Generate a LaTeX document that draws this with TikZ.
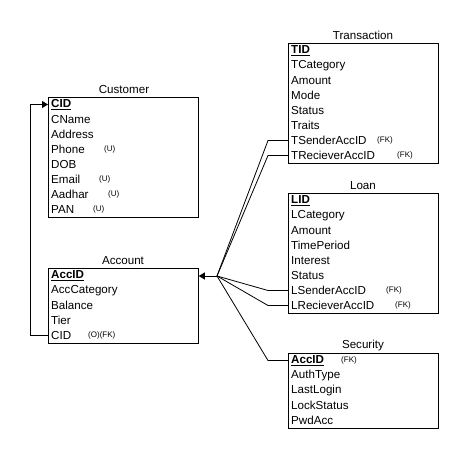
\documentclass[tikz,border=0pt]{standalone}
\usepackage{fontspec}
\setmainfont{Liberation Sans}
\usetikzlibrary{arrows.meta}
\tikzset{
  tbl/.style={draw, line width=0.8pt, minimum width=150pt, anchor=north west, inner sep=0pt},
  attr/.style={anchor=west, inner sep=0pt, font=\fontsize{11.6}{13}\selectfont},
  pk/.style={attr, font=\fontsize{11.6}{13}\selectfont\bfseries},
  note/.style={anchor=west, inner sep=0pt, font=\fontsize{8}{9}\selectfont},
  ttl/.style={inner sep=0pt, font=\fontsize{11.6}{13}\selectfont},
  conn/.style={line width=0.8pt, black},
  tip/.style={-{Triangle[length=6pt,width=7pt]}}
}
\begin{document}
\begin{tikzpicture}[x=1pt,y=-1pt]
\useasboundingbox (0,0) rectangle (464,454);
% Customer
\node[tbl, minimum height=120pt] (customer) at (48,97) {};
\node[ttl] (customer-t) at (124,90) {Customer};
\node[pk]   (c1) at (51,104.5) {\underline{CID}};
\node[attr] (c2) at (51,119.5) {CName};
\node[attr] (c3) at (51,134.5) {Address};
\node[attr] (c4) at (51,149.5) {Phone};
\node[attr] (c5) at (51,164.5) {DOB};
\node[attr] (c6) at (51,179.5) {Email};
\node[attr] (c7) at (51,194.5) {Aadhar};
\node[attr] (c8) at (51,209.5) {PAN};
\node[note] (c4n) at (104,149.5) {(U)};
\node[note] (c6n) at (99,179.5) {(U)};
\node[note] (c7n) at (108,194.5) {(U)};
\node[note] (c8n) at (93,209.5) {(U)};
% Account
\node[tbl, minimum height=75pt] (account) at (48,268) {};
\node[ttl] (account-t) at (123,261) {Account};
\node[pk]   (a1) at (51,275.5) {\underline{AccID}};
\node[attr] (a2) at (51,290.5) {AccCategory};
\node[attr] (a3) at (51,305.5) {Balance};
\node[attr] (a4) at (51,320.5) {Tier};
\node[attr] (a5) at (51,335.5) {CID};
\node[note] (a5n) at (88,335.5) {(O)(FK)};
% Transaction
\node[tbl, minimum height=120pt] (transaction) at (288,43) {};
\node[ttl] (transaction-t) at (363,35.5) {Transaction};
\node[pk]   (t1) at (291,50.5) {\underline{TID}};
\node[attr] (t2) at (291,65.5) {TCategory};
\node[attr] (t3) at (291,80.5) {Amount};
\node[attr] (t4) at (291,95.5) {Mode};
\node[attr] (t5) at (291,110.5) {Status};
\node[attr] (t6) at (291,125.5) {Traits};
\node[attr] (t7) at (291,140.5) {TSenderAccID};
\node[attr] (t8) at (291,155.5) {TRecieverAccID};
\node[note] (t7n) at (377,140.5) {(FK)};
\node[note] (t8n) at (397,155.5) {(FK)};
% Loan
\node[tbl, minimum height=120pt] (loan) at (288,193) {};
\node[ttl] (loan-t) at (363,186) {Loan};
\node[pk]   (l1) at (291,200.5) {\underline{LID}};
\node[attr] (l2) at (291,215.5) {LCategory};
\node[attr] (l3) at (291,230.5) {Amount};
\node[attr] (l4) at (291,245.5) {TimePeriod};
\node[attr] (l5) at (291,260.5) {Interest};
\node[attr] (l6) at (291,275.5) {Status};
\node[attr] (l7) at (291,290.5) {LSenderAccID};
\node[attr] (l8) at (291,305.5) {LRecieverAccID};
\node[note] (l7n) at (386,290.5) {(FK)};
\node[note] (l8n) at (395,305.5) {(FK)};
% Security
\node[tbl, minimum height=75pt] (security) at (288,353) {};
\node[ttl] (security-t) at (363,346) {Security};
\node[pk]   (s1) at (291,360.5) {\underline{AccID}};
\node[attr] (s2) at (291,375.5) {AuthType};
\node[attr] (s3) at (291,390.5) {LastLogin};
\node[attr] (s4) at (291,405.5) {LockStatus};
\node[attr] (s5) at (291,420.5) {PwdAcc};
\node[note] (s1n) at (341,360.5) {(FK)};
% connectors
\coordinate (lc) at (30,0);
\draw[conn, tip] (account.west |- a5) -- (lc |- a5) -- (lc |- c1) -- (customer.west |- c1);
\coordinate (hub) at (217,276);
\coordinate (bend) at (268,0);
\draw[conn, tip] (hub) -- (account.east |- hub);
\draw[conn] (hub) -- (bend |- t7) -- (transaction.west |- t7);
\draw[conn] (hub) -- (bend |- t8) -- (transaction.west |- t8);
\draw[conn] (hub) -- (bend |- l7) -- (loan.west |- l7);
\draw[conn] (hub) -- (bend |- l8) -- (loan.west |- l8);
\draw[conn] (hub) -- (bend |- s1) -- (security.west |- s1);
\end{tikzpicture}
\end{document}
